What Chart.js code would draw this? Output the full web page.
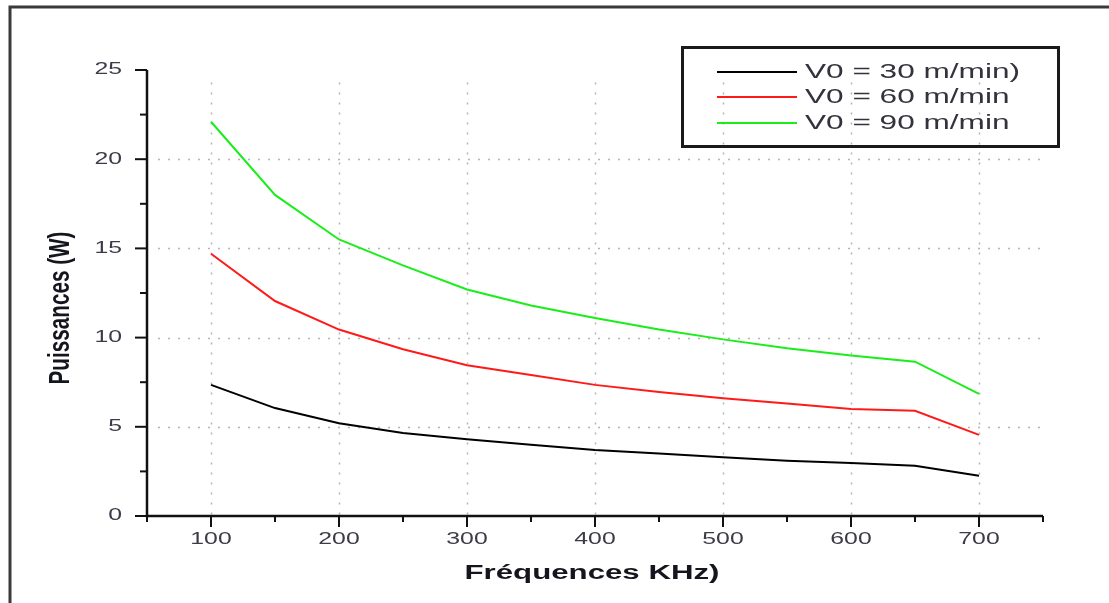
<!DOCTYPE html>
<html>
<head>
<meta charset="utf-8">
<script src="https://cdn.jsdelivr.net/npm/chart.js@4.4.1/dist/chart.umd.min.js"></script>
<style>
  body { margin: 0; background: #fff; }
</style>
</head>
<body>
<canvas id="myChart" width="1109" height="603"></canvas>
<script>
// values
const freqs = [100, 150, 200, 250, 300, 350, 400, 450, 500, 550, 600, 650, 700];
const v30 = [7.35, 6.05, 5.2, 4.65, 4.3, 4.0, 3.7, 3.5, 3.3, 3.1, 2.97, 2.82, 2.25];
const v60 = [14.7, 12.05, 10.45, 9.35, 8.45, 7.9, 7.35, 6.95, 6.6, 6.3, 6.0, 5.9, 4.55];
const v90 = [22.1, 18.0, 15.5, 14.05, 12.7, 11.8, 11.1, 10.45, 9.9, 9.4, 9.0, 8.65, 6.85];

const seriesLabels = ['V0 = 30 m/min)', 'V0 = 60 m/min', 'V0 = 90 m/min'];
const seriesColors = ['#000000', '#ff1a1a', '#1aee1a'];

const xTickLabels = [100, 200, 300, 400, 500, 600, 700];
const yTickLabels = [0, 5, 10, 15, 20, 25];
const xTitle = 'Fréquences KHz)';
const yTitle = 'Puissances (W)';

function toPoints(ys) {
    return freqs.map((f, i) => ({ x: f, y: ys[i] }));
}

// draw text squashed/stretched sideways like the original export
function wideText(ctx, text, x, y, align, sx) {
    const w = ctx.measureText(text).width;
    ctx.save();
    ctx.translate(x, y);
    ctx.scale(sx, 1);
    let dx = 0;
    if (align === 'center') dx = -w / 2;
    if (align === 'right') dx = -w;
    ctx.textAlign = 'left';
    ctx.fillText(text, dx, 0);
    ctx.restore();
}

const frame = {
    id: 'frame',
    beforeDatasetsDraw(chart) {
        const ctx = chart.ctx;
        const xs = chart.scales.x, ys = chart.scales.y;
        const area = chart.chartArea;
        ctx.save();
        ctx.strokeStyle = '#b4b4b4';
        ctx.lineWidth = 1.5;
        ctx.setLineDash([2, 8]);
        // vertical dotted grid
        xTickLabels.forEach(v => {
            const px = Math.round(xs.getPixelForValue(v)) + 0.5;
            ctx.beginPath();
            ctx.moveTo(px, ys.getPixelForValue(24.3));
            ctx.lineTo(px, area.bottom);
            ctx.stroke();
        });
        // horizontal dotted grid (none on 25)
        yTickLabels.filter(v => v > 0 && v < 25).forEach(v => {
            const py = Math.round(ys.getPixelForValue(v)) + 0.5;
            ctx.beginPath();
            ctx.moveTo(area.left + 11, py);
            ctx.lineTo(area.right, py);
            ctx.stroke();
        });
        ctx.restore();
    },
    afterDraw(chart) {
        const ctx = chart.ctx;
        const xs = chart.scales.x, ys = chart.scales.y;
        const area = chart.chartArea;
        ctx.save();

        // page border (left and top only visible)
        ctx.strokeStyle = '#3a3a3a';
        ctx.lineWidth = 3;
        ctx.beginPath();
        ctx.moveTo(10, 603);
        ctx.lineTo(10, 7);
        ctx.lineTo(1109, 7);
        ctx.stroke();

        // axes
        ctx.strokeStyle = '#111';
        ctx.lineWidth = 2.5;
        ctx.beginPath();
        ctx.moveTo(area.left, area.top);
        ctx.lineTo(area.left, area.bottom);
        ctx.lineTo(area.right, area.bottom);
        ctx.stroke();

        // tick marks, major + minor
        ctx.lineWidth = 2;
        for (let v = 0; v <= 25; v += 2.5) {
            const py = ys.getPixelForValue(v);
            const len = v % 5 === 0 ? 12 : 7;
            ctx.beginPath();
            ctx.moveTo(area.left, py);
            ctx.lineTo(area.left - len, py);
            ctx.stroke();
        }
        for (let v = 50; v <= 750; v += 50) {
            const px = xs.getPixelForValue(v);
            const len = v % 100 === 0 ? 11 : 6;
            ctx.beginPath();
            ctx.moveTo(px, area.bottom);
            ctx.lineTo(px, area.bottom + len);
            ctx.stroke();
        }

        // tick labels
        ctx.fillStyle = '#3c3c48';
        ctx.font = '16px "Liberation Sans", Arial, sans-serif';
        ctx.textBaseline = 'middle';
        yTickLabels.forEach(v => {
            wideText(ctx, String(v), 122, ys.getPixelForValue(v), 'right', 1.55);
        });
        xTickLabels.forEach(v => {
            wideText(ctx, String(v), xs.getPixelForValue(v), 540, 'center', 1.55);
        });

        // axis titles
        ctx.fillStyle = '#15151f';
        ctx.font = 'bold 20px "Liberation Sans", Arial, sans-serif';
        const tw = ctx.measureText(xTitle).width;
        wideText(ctx, xTitle, 592, 573, 'center', 255 / tw);

        ctx.save();
        ctx.font = 'bold 19.5px "Liberation Sans", Arial, sans-serif';
        ctx.translate(61, 308);
        ctx.rotate(-Math.PI / 2);
        ctx.scale(153 / ctx.measureText(yTitle).width, 1.5);
        ctx.textAlign = 'center';
        ctx.fillText(yTitle, 0, 0);
        ctx.restore();

        // legend box
        ctx.strokeStyle = '#1a1a1a';
        ctx.lineWidth = 3;
        ctx.strokeRect(682.5, 47.5, 376, 99);
        ctx.font = '20px "Liberation Sans", Arial, sans-serif';
        ctx.fillStyle = '#33333d';
        const lsx = 215 / ctx.measureText(seriesLabels[0]).width;
        const rows = [72, 97, 123];
        chart.data.datasets.forEach((ds, i) => {
            ctx.strokeStyle = ds.borderColor;
            ctx.lineWidth = 2;
            ctx.beginPath();
            ctx.moveTo(717, rows[i]);
            ctx.lineTo(797, rows[i]);
            ctx.stroke();
            wideText(ctx, ds.label, 805, rows[i], 'left', lsx);
        });
        ctx.restore();
    }
};

new Chart(document.getElementById('myChart').getContext('2d'), {
    type: 'line',
    data: {
        datasets: [0, 1, 2].map(i => ({
            label: seriesLabels[i],
            data: toPoints([v30, v60, v90][i]),
            borderColor: seriesColors[i],
            borderWidth: 2,
            pointRadius: 0,
            tension: 0,
            fill: false
        }))
    },
    options: {
        responsive: false,
        animation: false,
        layout: { padding: { left: 147, right: 66, top: 70, bottom: 87 } },
        plugins: { legend: { display: false }, tooltip: { enabled: false } },
        scales: {
            x: { type: 'linear', min: 50, max: 750, display: false },
            y: { min: 0, max: 25, display: false }
        }
    },
    plugins: [frame]
});
</script>
</body>
</html>
